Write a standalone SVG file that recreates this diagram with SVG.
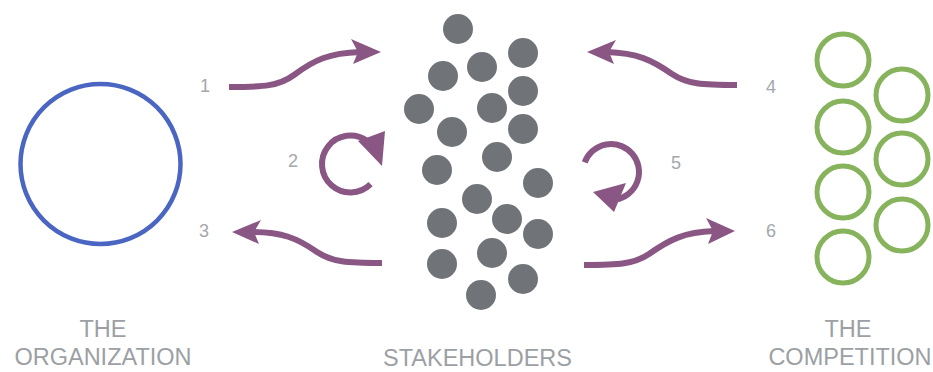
<svg xmlns="http://www.w3.org/2000/svg" width="933" height="372" viewBox="0 0 933 372">
<style>
.lbl{font-family:"Liberation Sans",Arial,sans-serif;font-size:23.5px;fill:#9c9fa4;text-anchor:middle}
.num{font-family:"Liberation Sans",Arial,sans-serif;font-size:18px;fill:#a4a7ab;text-anchor:middle}
.dot{fill:#707378}
.ring{fill:none;stroke:#86b35c;stroke-width:5}
.shaft{fill:none;stroke:#8a5785;stroke-width:6}
.head{fill:#8a5785}
</style>
<rect width="933" height="372" fill="#fff"/>
<g id="organization">
<circle cx="100.5" cy="164" r="80" fill="none" stroke="#4a66c2" stroke-width="4.5"/>
<text class="lbl" x="103" y="337">THE</text>
<text class="lbl" x="103" y="365">ORGANIZATION</text>
</g>
<g id="stakeholders">
<circle class="dot" cx="458" cy="29" r="15"/>
<circle class="dot" cx="523" cy="53" r="15"/>
<circle class="dot" cx="443" cy="76" r="15"/>
<circle class="dot" cx="482" cy="67" r="15"/>
<circle class="dot" cx="523" cy="91" r="15"/>
<circle class="dot" cx="419" cy="109" r="15"/>
<circle class="dot" cx="492" cy="108" r="15"/>
<circle class="dot" cx="452" cy="132" r="15"/>
<circle class="dot" cx="523" cy="129" r="15"/>
<circle class="dot" cx="497" cy="157" r="15"/>
<circle class="dot" cx="437" cy="170" r="15"/>
<circle class="dot" cx="538" cy="183" r="15"/>
<circle class="dot" cx="477" cy="199" r="15"/>
<circle class="dot" cx="442" cy="223" r="15"/>
<circle class="dot" cx="507" cy="219" r="15"/>
<circle class="dot" cx="538" cy="234" r="15"/>
<circle class="dot" cx="492" cy="253" r="15"/>
<circle class="dot" cx="442" cy="264" r="15"/>
<circle class="dot" cx="523" cy="279" r="15"/>
<circle class="dot" cx="481" cy="295" r="15"/>
<text class="lbl" x="477.5" y="366">STAKEHOLDERS</text>
</g>
<g id="competition">
<circle class="ring" cx="843" cy="60" r="26"/>
<circle class="ring" cx="843" cy="127" r="26"/>
<circle class="ring" cx="843" cy="192" r="26"/>
<circle class="ring" cx="843" cy="257" r="26"/>
<circle class="ring" cx="902" cy="95" r="26"/>
<circle class="ring" cx="902" cy="159" r="26"/>
<circle class="ring" cx="902" cy="225" r="26"/>
<text class="lbl" x="848" y="337">THE</text>
<text class="lbl" x="850" y="365">COMPETITION</text>
</g>
<g id="connectors">
<g id="arrow1">
<path class="shaft" d="M229,87 C264,87 279,86 294,75 C314,60 329,53 360,52"/>
<path class="head" d="M381,52 L351,39 L358,52 L353,64 Z"/>
<text class="num" x="205" y="92">1</text>
</g>
<g id="arrow2">
<path class="shaft" d="M370.6,184.2 A28.5,28.5 0 1 1 366.9,140.7"/>
<path class="head" d="M358,141 L385,131 L382,166 Z"/>
<text class="num" x="293" y="167">2</text>
</g>
<g id="arrow3">
<path class="shaft" d="M382,263 C347,263 332,262 317,252 C297,238 282,232 252,232"/>
<path class="head" d="M232,232 L261,220 L254,232 L259,244 Z"/>
<text class="num" x="204" y="237">3</text>
</g>
<g id="arrow4">
<path class="shaft" d="M737,85 C702,85 687,84 672,74 C652,60 637,53 607,52"/>
<path class="head" d="M587,52 L616,40 L609,52 L614,64 Z"/>
<text class="num" x="771" y="93">4</text>
</g>
<g id="arrow5">
<path class="shaft" d="M584.7,162.4 A28,28 0 1 1 615.9,199.6"/>
<path class="head" d="M593,192 L626,183 L614,212 Z"/>
<text class="num" x="676" y="169">5</text>
</g>
<g id="arrow6">
<path class="shaft" d="M584,265 C619,265 634,264 649,254 C669,240 684,232 714,231"/>
<path class="head" d="M735,231 L706,218 L713,231 L708,244 Z"/>
<text class="num" x="771" y="237">6</text>
</g>
</g>
</svg>
